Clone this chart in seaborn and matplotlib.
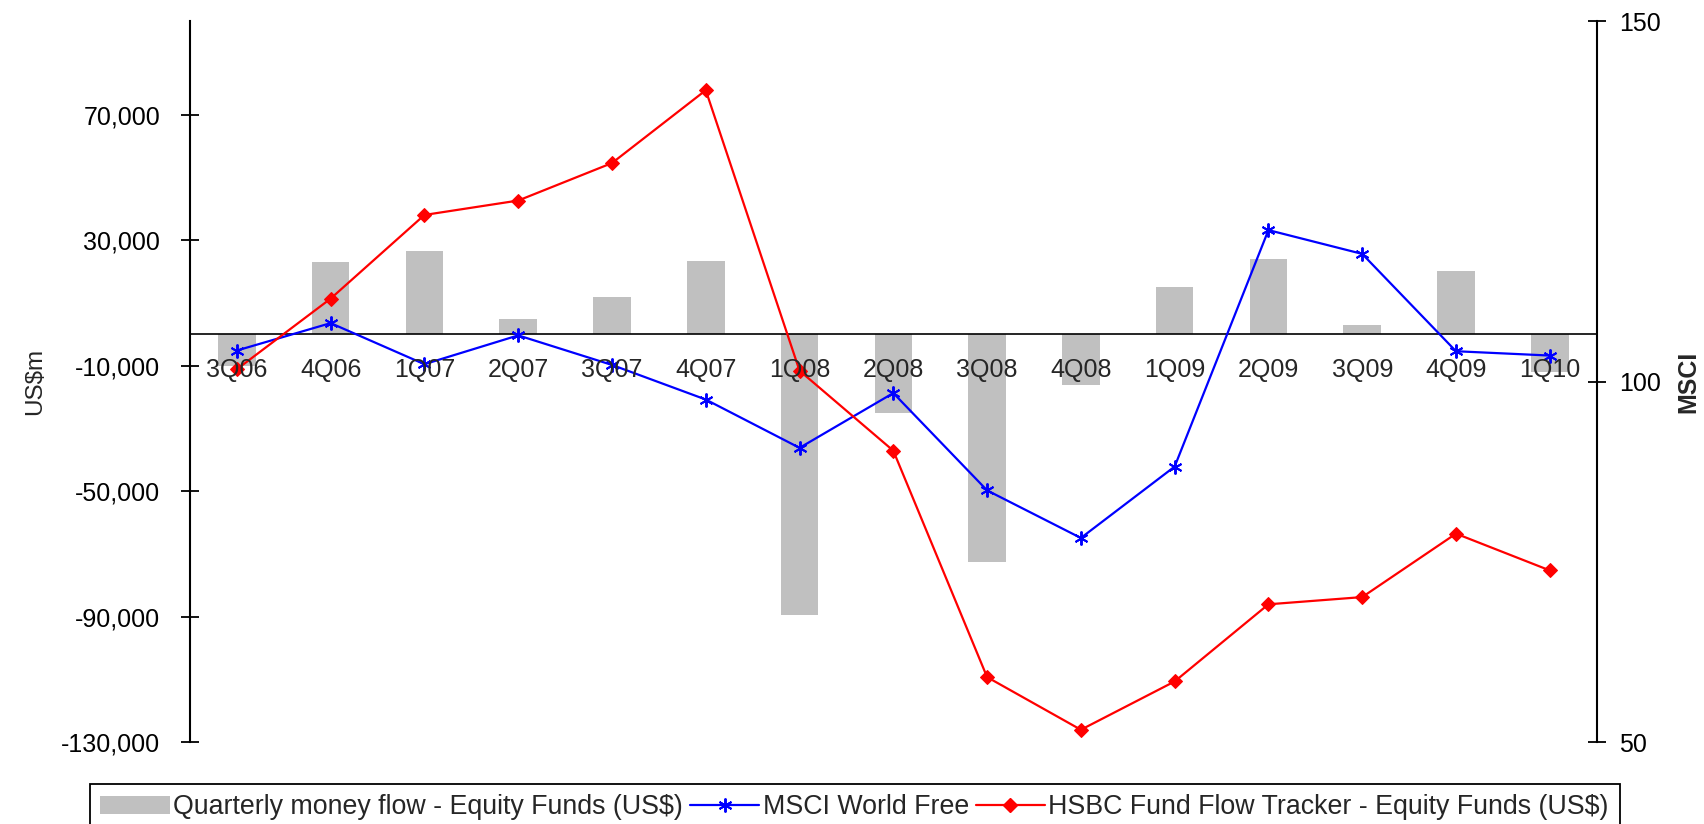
import numpy as np
import matplotlib
matplotlib.use("Agg")
import matplotlib.pyplot as plt
import seaborn as sns
from matplotlib.patches import Patch
from matplotlib.lines import Line2D
from matplotlib.ticker import FuncFormatter

# Quarterly data
quarters = ['3Q06', '4Q06', '1Q07', '2Q07', '3Q07', '4Q07', '1Q08', '2Q08',
            '3Q08', '4Q08', '1Q09', '2Q09', '3Q09', '4Q09', '1Q10']
equity_flows = [-10000, 23000, 26500, 5000, 11800, 23600, -89600, -25000,
                -72500, -16100, 15200, 24200, 2900, 20100, -11900]
msci_world = [104.3, 108.1, 102.4, 106.4, 102.3, 97.5, 90.8, 98.4,
              84.9, 78.3, 88.2, 121.0, 117.7, 104.2, 103.6]
hsbc_tracker = [101.7, 111.5, 123.1, 125.1, 130.3, 140.4, 101.5, 90.4,
                59.0, 51.7, 58.4, 69.1, 70.1, 78.9, 73.8]

left_ticks = [-130000, -90000, -50000, -10000, 30000, 70000]
right_ticks = [50, 100, 150]

series_labels = ['Quarterly money flow - Equity Funds (US$)',
                 'MSCI World Free',
                 'HSBC Fund Flow Tracker - Equity Funds (US$)']

sns.set_style('white')
plt.rcParams['font.family'] = ['Liberation Sans', 'DejaVu Sans']

BAR_GREY = '#C0C0C0'
BLUE = '#0000FF'
RED = '#FF0000'
FS = 18
asterisk = (6, 2, 0)

fig = plt.figure(figsize=(17.04, 8.24), dpi=100)
ax1 = fig.add_axes([0.1115, 0.0995, 0.8255, 0.875])
ax2 = ax1.twinx()

pos = np.arange(len(quarters))

# Money flow bars on the left axis
sns.barplot(x=pos, y=equity_flows, ax=ax1, color=BAR_GREY, saturation=1,
            width=0.40, edgecolor='none', linewidth=0, native_scale=True)
ax1.set_xlim(-0.5, len(quarters) - 0.5)
ax1.set_ylim(-130000, 100000)
ax1.set_yticks(left_ticks)
ax1.yaxis.set_major_formatter(FuncFormatter(lambda v, p: f'{v:,.0f}'))
ax1.set_xticks(np.arange(0.5, len(quarters) - 1, 1.0))
ax1.set_xticklabels([])
ax1.spines['bottom'].set_position(('data', 0))
ax1.spines['top'].set_visible(False)
ax1.spines['right'].set_visible(False)
ax1.spines['left'].set_linewidth(1.5)
ax1.spines['bottom'].set_linewidth(1.2)
for s in ('left', 'bottom'):
    ax1.spines[s].set_color('black')
ax1.tick_params(axis='y', direction='inout', length=13, width=1.3,
                pad=15, labelsize=FS, colors='black')
ax1.tick_params(axis='x', direction='inout', length=11, width=1.3,
                colors='black')
ax1.set_ylabel('US$m', fontsize=17.5, labelpad=11)
ax1.set_xlabel('')

# Index lines on the right axis
sns.lineplot(x=pos, y=msci_world, ax=ax2, color=BLUE, lw=1.6,
             marker=asterisk, markersize=10, markeredgewidth=1.4,
             markeredgecolor=BLUE, legend=False)
sns.lineplot(x=pos, y=hsbc_tracker, ax=ax2, color=RED, lw=1.6,
             marker='D', markersize=7.5, markeredgecolor=RED,
             markerfacecolor=RED, legend=False)
ax2.set_ylim(50, 150)
ax2.set_yticks(right_ticks)
for s in ('left', 'top', 'bottom'):
    ax2.spines[s].set_visible(False)
ax2.spines['right'].set_linewidth(1.5)
ax2.spines['right'].set_color('black')
ax2.tick_params(axis='y', direction='inout', length=13, width=1.3,
                pad=9.5, labelsize=FS, colors='black')
ax2.set_ylabel('MSCI', fontsize=FS, fontweight='bold', labelpad=11)
ax2.set_xlabel('')

# Category labels sit just under the zero line, above the lines
for i, q in enumerate(quarters):
    ax2.annotate(q, xy=(i, 0), xycoords=ax1.transData,
                 xytext=(0, -17), textcoords='offset points',
                 ha='center', va='top', fontsize=FS, zorder=10)

handles = [Patch(facecolor=BAR_GREY, edgecolor='none'),
           Line2D([], [], color=BLUE, lw=1.6, marker=asterisk,
                  markersize=10, markeredgewidth=1.4),
           Line2D([], [], color=RED, lw=1.6, marker='D', markersize=7.5)]
leg = fig.legend(handles, series_labels, ncol=3, loc='upper center',
                 bbox_to_anchor=(0.5015, 0.049), fontsize=19.3,
                 frameon=True, fancybox=False, framealpha=1,
                 edgecolor='black', borderaxespad=0, handlelength=2.6,
                 columnspacing=0.25, handletextpad=0.12, borderpad=0.4)
leg.get_frame().set_linewidth(1.3)

fig.savefig('out.png', dpi=100)
